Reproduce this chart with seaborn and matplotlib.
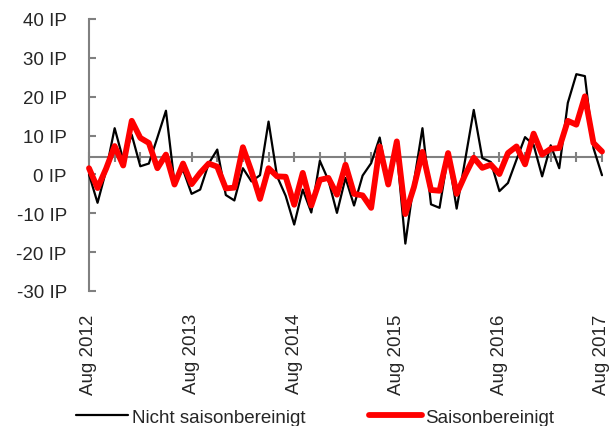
import numpy as np
import pandas as pd
import matplotlib
matplotlib.use("Agg")
import matplotlib.pyplot as plt
from matplotlib.lines import Line2D
import seaborn as sns

# ---- data -----------------------------------------------------------
months = pd.date_range("2012-08-01", "2017-08-01", freq="MS")

nicht_saisonbereinigt = [
    0.0, -7.3, 1.0, 11.9, 3.8, 10.2, 2.1, 2.8, 9.5, 16.4,
    -2.2, 1.2, -5.0, -3.9, 2.8, 6.4, -5.3, -6.7, 1.6, -1.8,
    -0.2, 13.6, -0.5, -5.5, -12.9, -3.9, -9.8, 3.5, -1.5, -9.9,
    -0.9, -8.0, -0.3, 2.9, 9.5, -2.4, 6.0, -17.8, -2.0, 11.9,
    -7.7, -8.6, 5.0, -8.8, 3.8, 16.6, 4.2, 3.2, -4.3, -2.2,
    3.8, 9.6, 7.6, -0.5, 7.5, 1.6, 18.4, 25.8, 25.3, 6.8,
    -0.2,
]

saisonbereinigt = [
    1.6, -3.5, 1.5, 7.3, 2.3, 13.8, 9.4, 8.1, 1.6, 5.1,
    -2.6, 2.8, -2.5, 0.4, 2.8, 2.0, -3.6, -3.4, 7.0, 0.8,
    -6.3, 1.6, -0.5, -0.6, -7.8, 0.4, -8.0, -1.4, -0.9, -5.2,
    2.5, -5.0, -5.4, -8.6, 7.2, -2.6, 8.5, -10.2, -3.3, 5.8,
    -4.0, -4.2, 5.5, -5.0, -0.1, 4.3, 1.7, 2.5, 0.1, 5.5,
    7.2, 2.6, 10.5, 5.1, 6.6, 6.8, 13.8, 12.8, 20.1, 8.1,
    5.9,
]

series_names = ["Nicht saisonbereinigt", "Saisonbereinigt"]
year_labels = ["Aug 2012", "Aug 2013", "Aug 2014", "Aug 2015", "Aug 2016", "Aug 2017"]
y_ticks = [-30, -20, -10, 0, 10, 20, 30, 40]
reference_level = 4.5

# ---- styling --------------------------------------------------------
sns.set_style("white")
plt.rcParams["font.family"] = ["Liberation Sans", "DejaVu Sans"]
FS = 13.5
GREY = "#808080"

t = np.arange(len(months))
df = pd.DataFrame({
    "t": t,
    series_names[0]: nicht_saisonbereinigt,
    series_names[1]: saisonbereinigt,
}).melt(id_vars="t", var_name="Serie", value_name="Wert")

fig = plt.figure(figsize=(6.09, 4.27), dpi=100)
ax = fig.add_axes([89 / 609, 1 - 292 / 427, (602 - 89) / 609, (292 - 20) / 427])

# horizontal category axis line crossing at reference level, with tick marks every 3 months
ax.axhline(reference_level, color=GREY, lw=1.5, zorder=1)
tick_idx = t[::3]
ax.plot(tick_idx, [reference_level] * len(tick_idx), ls="none", marker="|",
        ms=7, mew=1.5, color=GREY, zorder=1, clip_on=False)

palette = {series_names[0]: "#000000", series_names[1]: "#ff0000"}
sizes = {series_names[0]: 1.6, series_names[1]: 4.2}
sns.lineplot(data=df, x="t", y="Wert", hue="Serie", size="Serie",
             hue_order=series_names, size_order=series_names,
             palette=palette, sizes=sizes, ax=ax, legend=False, zorder=3)
for ln in ax.lines:
    ln.set_clip_on(False)
    ln.set_solid_joinstyle("round")

ax.set_xlim(0, len(months) - 1)
ax.set_ylim(y_ticks[0], y_ticks[-1])
ax.set_xlabel("")
ax.set_ylabel("")

ax.set_xticks(t[::12])
ax.set_xticklabels(year_labels, rotation=90, fontsize=FS)
ax.tick_params(axis="x", length=0, pad=16)

ax.set_yticks(y_ticks)
ax.set_yticklabels([f"{v} IP" for v in y_ticks], fontsize=FS)
ax.tick_params(axis="y", direction="in", length=5, width=1.5, color=GREY, pad=16, left=True)

for s in ["top", "right", "bottom"]:
    ax.spines[s].set_visible(False)
ax.spines["left"].set_color(GREY)
ax.spines["left"].set_linewidth(1.5)

handles = [Line2D([], [], color=palette[n], lw=sizes[n]) for n in series_names]
fig.legend(handles, series_names, loc="center", ncol=2,
           bbox_to_anchor=(315 / 609, 1 - 418 / 427), frameon=False,
           fontsize=FS, handlelength=2.8, handletextpad=0.2, columnspacing=3.4,
           borderpad=0, borderaxespad=0)

fig.savefig("out.png", dpi=100)
